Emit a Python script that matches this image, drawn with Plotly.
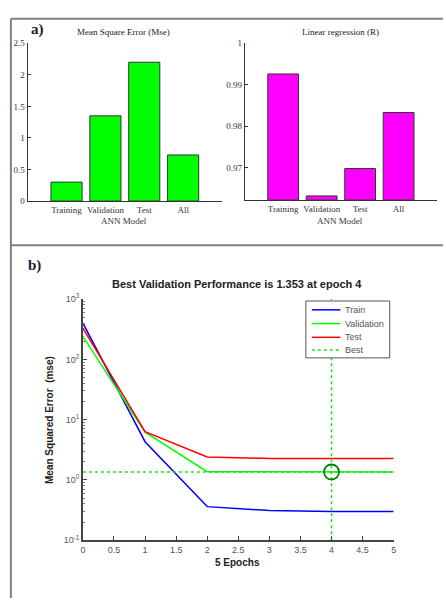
import plotly.graph_objects as go

W, H = 446, 603

# ---------------- data ----------------
bar_categories = ["Training", "Validation", "Test", "All"]
mse_values = [0.30, 1.35, 2.20, 0.73]
r_values = [0.9926, 0.9632, 0.9698, 0.9833]
mse_ticks = [0, 0.5, 1, 1.5, 2, 2.5]
mse_ticklabels = ["0", "0.5", "1", "1.5", "2", "2.5"]
r_ticks = [0.97, 0.98, 0.99, 1.0]
r_ticklabels = ["0.97", "0.98", "0.99", "1"]

epochs = [0, 1, 2, 3, 4, 5]
train_mse = [400, 4.3, 0.36, 0.31, 0.30, 0.30]
val_mse = [240, 6.2, 1.37, 1.36, 1.353, 1.355]
test_mse = [330, 6.3, 2.40, 2.27, 2.26, 2.26]
best_epoch = 4
best_value = 1.353
epoch_ticks = [0, 0.5, 1, 1.5, 2, 2.5, 3, 3.5, 4, 4.5, 5]
epoch_ticklabels = ["0", "0.5", "1", "1.5", "2", "2.5", "3", "3.5", "4", "4.5", "5"]
log_ticks = [0.1, 1, 10, 100, 1000]
log_ticklabels = ["10<sup>-1</sup>", "10<sup>0</sup>", "10<sup>1</sup>", "10<sup>2</sup>", "10<sup>3</sup>"]
minor_log_ticks = [m * d for d in [0.1, 1, 10, 100] for m in range(2, 10)]
legend_names = ["Train", "Validation", "Test", "Best"]


def fx(x):
    return x / W


def fy(y):
    return 1 - y / H


SERIF = "Liberation Serif, Times New Roman, serif"
SANS = "Liberation Sans, Arial, sans-serif"

C_TRAIN, C_VAL, C_TEST, C_BEST = "#0000FF", "#00FF00", "#FF0000", "#22DD22"

fig = go.Figure()

# ---- panel a) left: MSE bars ----
fig.add_trace(go.Bar(
    x=bar_categories, y=mse_values, width=0.8,
    marker=dict(color="#00FF00", line=dict(color="#333333", width=1)),
    xaxis="x", yaxis="y", showlegend=False))

# ---- panel a) right: R bars ----
r_base = 0.9622
fig.add_trace(go.Bar(
    x=bar_categories, y=[v - r_base for v in r_values], base=r_base, width=0.8,
    marker=dict(color="#FF00FF", line=dict(color="#333333", width=1)),
    xaxis="x2", yaxis="y2", showlegend=False))

# ---- panel b) performance ----
fig.add_trace(go.Scatter(x=epochs, y=train_mse, mode="lines", name="Train", showlegend=False,
                         line=dict(color=C_TRAIN, width=1.5), xaxis="x3", yaxis="y3"))
fig.add_trace(go.Scatter(x=epochs, y=val_mse, mode="lines", name="Validation", showlegend=False,
                         line=dict(color=C_VAL, width=1.5), xaxis="x3", yaxis="y3"))
fig.add_trace(go.Scatter(x=epochs, y=test_mse, mode="lines", name="Test", showlegend=False,
                         line=dict(color=C_TEST, width=1.5), xaxis="x3", yaxis="y3"))
fig.add_trace(go.Scatter(
    x=[epochs[0], epochs[-1], None, best_epoch, best_epoch],
    y=[best_value, best_value, None, log_ticks[0], log_ticks[-1]],
    mode="lines", name="Best", showlegend=False,
    line=dict(color=C_BEST, width=1.5, dash="dot"), xaxis="x3", yaxis="y3"))
fig.add_trace(go.Scatter(
    x=[best_epoch], y=[best_value], mode="markers", showlegend=False,
    marker=dict(symbol="circle-open", size=15, color="#008000", line=dict(width=1.8, color="#008000")),
    xaxis="x3", yaxis="y3"))

axis_line = "#333333"
bar_font = dict(family=SERIF, size=9, color="#333333")

fig.update_layout(
    width=W, height=H,
    margin=dict(l=0, r=0, t=0, b=0),
    paper_bgcolor="white", plot_bgcolor="rgba(0,0,0,0)",
    bargap=0.2, showlegend=False,
    xaxis=dict(domain=[fx(25), fx(222)], range=[-1, 4], showline=True, linecolor=axis_line,
               linewidth=1, ticks="", tickfont=bar_font, showgrid=False, zeroline=False,
               anchor="y"),
    yaxis=dict(domain=[fy(198), fy(37)], range=[0, 2.5], showline=True, linecolor=axis_line,
               linewidth=1, ticks="inside", ticklen=3, tickcolor=axis_line,
               tickvals=mse_ticks, ticktext=mse_ticklabels, tickfont=bar_font,
               showgrid=False, zeroline=False, anchor="x"),
    xaxis2=dict(domain=[fx(245), fx(440)], range=[-1, 4], showline=True, linecolor=axis_line,
                linewidth=1, ticks="", tickfont=bar_font, showgrid=False, zeroline=False,
                anchor="y2"),
    yaxis2=dict(domain=[fy(197), fy(37)], range=[r_base, 1.0], showline=True, linecolor=axis_line,
                linewidth=1, ticks="inside", ticklen=3, tickcolor=axis_line,
                tickvals=r_ticks, ticktext=r_ticklabels, tickfont=bar_font,
                showgrid=False, zeroline=False, anchor="x2"),
    xaxis3=dict(domain=[fx(81), fx(396)], range=[0, 5], showline=True, linecolor="#444444",
                linewidth=1.5, ticks="inside", ticklen=4, tickcolor="#444444",
                tickvals=epoch_ticks, ticktext=epoch_ticklabels,
                tickfont=dict(family=SANS, size=9, color="#555555"),
                showgrid=False, zeroline=False, anchor="y3"),
    yaxis3=dict(domain=[fy(544), fy(298)], type="log", range=[-1, 3], showline=True,
                linecolor="#444444", linewidth=1.5, ticks="inside", ticklen=4,
                tickcolor="#444444", tickvals=log_ticks, ticktext=log_ticklabels,
                tickfont=dict(family=SANS, size=9, color="#555555"),
                minor=dict(ticks="inside", ticklen=2, tickcolor="#777777",
                           tickmode="array", tickvals=minor_log_ticks, showgrid=False),
                showgrid=False, zeroline=False, anchor="x3"),
)

annotations = [
    dict(text="<b>a)</b>", x=fx(35), y=fy(23), font=dict(family=SERIF, size=15, color="#1a1a33")),
    dict(text="Mean Square Error (Mse)", x=fx(122), y=fy(25), font=dict(family=SERIF, size=9, color="#222222")),
    dict(text="Linear regression (R)", x=fx(342), y=fy(25), font=dict(family=SERIF, size=9, color="#222222")),
    dict(text="ANN Model", x=fx(123), y=fy(218), font=dict(family=SERIF, size=9, color="#333333")),
    dict(text="ANN Model", x=fx(342), y=fy(218), font=dict(family=SERIF, size=9, color="#333333")),
    dict(text="<b>b)</b>", x=fx(32), y=fy(264), font=dict(family=SERIF, size=15, color="#1a1a33")),
    dict(text="<b>Best Validation Performance is 1.353 at epoch 4</b>", x=fx(237), y=fy(283),
         font=dict(family=SANS, size=11, color="#222222")),
    dict(text="<b>5 Epochs</b>", x=fx(238), y=fy(567), font=dict(family=SANS, size=10, color="#222222")),
    dict(text="<b>Mean Squared Error  (mse)</b>", x=fx(47), y=fy(421), textangle=-90,
         font=dict(family=SANS, size=10, color="#222222")),
]
for a in annotations:
    a.update(xref="paper", yref="paper", showarrow=False, xanchor="center", yanchor="middle")

border = dict(color="#808080", width=2)
shapes = [
    dict(type="line", xref="paper", yref="paper", x0=fx(8), y0=fy(12), x1=1, y1=fy(12), line=border),
    dict(type="line", xref="paper", yref="paper", x0=fx(8), y0=fy(12), x1=fx(8), y1=0, line=border),
    dict(type="line", xref="paper", yref="paper", x0=fx(8), y0=fy(243), x1=1, y1=fy(243), line=border),
    # legend box
    dict(type="rect", xref="paper", yref="paper", x0=fx(307), y0=fy(358), x1=fx(392), y1=fy(300),
         line=dict(color="#555555", width=1), fillcolor="white", layer="above"),
]

# legend entries
legend_colors = [C_TRAIN, C_VAL, C_TEST, C_BEST]
legend_dash = ["solid", "solid", "solid", "dot"]
legend_rows = [309, 323, 337, 350]
for name, col, dsh, ry in zip(legend_names, legend_colors, legend_dash, legend_rows):
    shapes.append(dict(type="line", xref="paper", yref="paper", x0=fx(313), x1=fx(342),
                       y0=fy(ry), y1=fy(ry), line=dict(color=col, width=1.5, dash=dsh),
                       layer="above"))
    annotations.append(dict(text=name, x=fx(345), y=fy(ry), xref="paper", yref="paper",
                            showarrow=False, xanchor="left", yanchor="middle",
                            font=dict(family=SANS, size=9, color="#555555")))

fig.update_layout(annotations=annotations, shapes=shapes)

fig.write_html(
    "out.html",
    config={"displayModeBar": False},
    post_script="document.body.style.margin='0px';document.body.style.overflow='hidden';",
)
